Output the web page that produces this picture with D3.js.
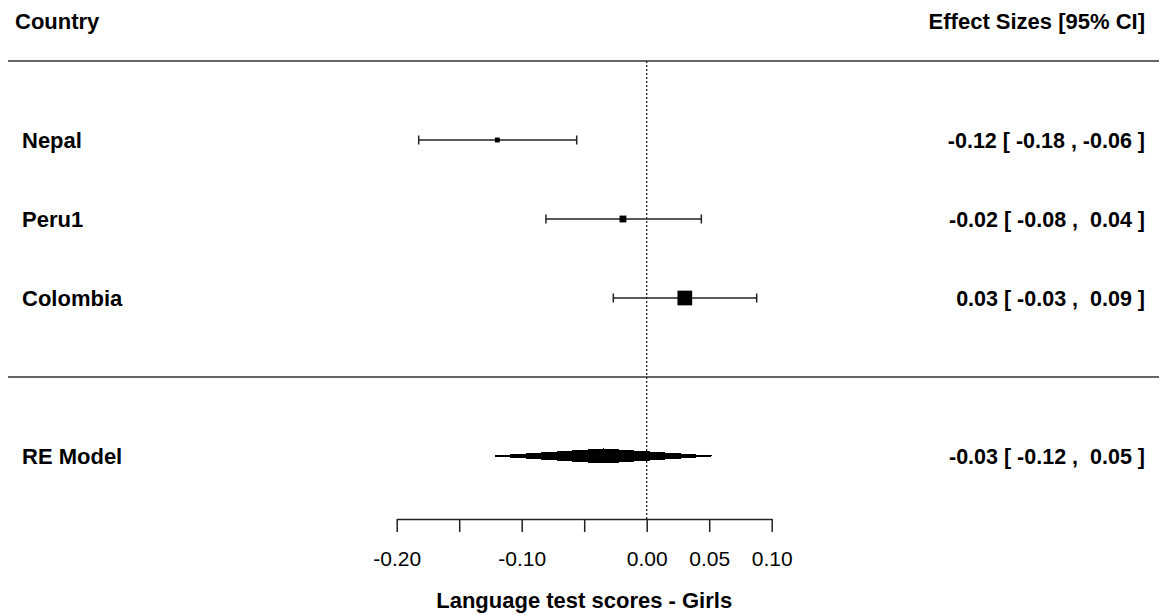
<!DOCTYPE html>
<html>
<head>
<meta charset="utf-8">
<script src="https://cdn.jsdelivr.net/npm/d3@7"></script>
<style>
  html, body { margin: 0; padding: 0; background: #fff; }
  svg { display: block; font-family: "Liberation Sans", Arial, sans-serif; }
  text { white-space: pre; }
</style>
</head>
<body>
<svg id="chart" width="1163" height="615"></svg>
<script>
// ---- data ----
const countries = ["Nepal", "Peru1", "Colombia"];
const estimates = [-0.1195, -0.0190, 0.0305];
const ciLower   = [-0.1824, -0.0806, -0.0267];
const ciUpper   = [-0.0560, 0.0437, 0.0880];
const weights   = [8.4, 16.4, 75.3];          // relative study weights (%)
const rows      = [3, 2, 1];

const modelLabel = "RE Model";
const modelEst   = -0.0347;
const modelLower = -0.1214;
const modelUpper = 0.0520;
const modelRow   = -1;

const tickValues = [-0.20, -0.15, -0.10, -0.05, 0.00, 0.05, 0.10];
const tickLabels = ["-0.20", "", "-0.10", "", "0.00", "0.05", "0.10"];

const headerLeft  = "Country";
const headerRight = "Effect Sizes [95% CI]";
const xTitle      = "Language test scores - Girls";

// ---- layout ----
const svg = d3.select("#chart");
const x = d3.scaleLinear().domain([-0.20, 0.10]).range([396.7, 771.7]);
const y = d3.scaleLinear().domain([0, 4]).range([377, 61]);
const sq = d3.scaleSqrt().domain([0, 75.3]).range([0, 14.7]);

const FS = 22;      // label text
const FSN = 21.5;   // numeric annotations
const FST = 21;     // tick labels
const lineCol = "#222";

// horizontal separators
[4, 0].forEach(r => {
  svg.append("line")
    .attr("x1", 8).attr("x2", 1159)
    .attr("y1", y(r)).attr("y2", y(r))
    .attr("stroke", "#333").attr("stroke-width", 1.5);
});

// reference line at 0
svg.append("line")
  .attr("x1", x(0)).attr("x2", x(0))
  .attr("y1", y(4)).attr("y2", 519)
  .attr("stroke", "#111").attr("stroke-width", 1.2)
  .attr("stroke-dasharray", "2,2");

// headers
svg.append("text").attr("x", 15).attr("y", y(4.5)).attr("dy", "0.35em")
  .attr("font-size", FS).attr("font-weight", "bold").text(headerLeft);
svg.append("text").attr("x", 1145).attr("y", y(4.5)).attr("dy", "0.35em")
  .attr("text-anchor", "end")
  .attr("font-size", FS).attr("font-weight", "bold").text(headerRight);

function fmt(v) {
  const s = Math.abs(v).toFixed(2);
  return (v < 0 ? "-" : " ") + s;
}

// studies
countries.forEach((c, i) => {
  const yy = y(rows[i]);
  const g = svg.append("g");
  g.append("line").attr("x1", x(ciLower[i])).attr("x2", x(ciUpper[i]))
    .attr("y1", yy).attr("y2", yy).attr("stroke", lineCol).attr("stroke-width", 1.5);
  [ciLower[i], ciUpper[i]].forEach(v => {
    g.append("line").attr("x1", x(v)).attr("x2", x(v))
      .attr("y1", yy - 4.5).attr("y2", yy + 4.5)
      .attr("stroke", lineCol).attr("stroke-width", 1.5);
  });
  const s = sq(weights[i]);
  g.append("rect").attr("x", x(estimates[i]) - s / 2).attr("y", yy - s / 2)
    .attr("width", s).attr("height", s).attr("fill", "#000");
  svg.append("text").attr("x", 22).attr("y", yy).attr("dy", "0.35em")
    .attr("font-size", FS).attr("font-weight", "bold").text(c);
  svg.append("text").attr("x", 1145).attr("y", yy).attr("dy", "0.35em")
    .attr("text-anchor", "end").attr("font-size", FSN).attr("font-weight", "bold")
    .text(`${fmt(estimates[i]).trim()} [ ${fmt(ciLower[i])} , ${fmt(ciUpper[i])} ]`);
});

// summary diamond
const ym = y(modelRow);
svg.append("polygon")
  .attr("points", [
    [x(modelLower), ym], [x(modelEst), ym - 7],
    [x(modelUpper), ym], [x(modelEst), ym + 7]
  ].map(p => p.join(",")).join(" "))
  .attr("fill", "#000").attr("stroke", "#000").attr("stroke-width", 1)
  .attr("shape-rendering", "crispEdges");
svg.append("text").attr("x", 22).attr("y", ym).attr("dy", "0.35em")
  .attr("font-size", FS).attr("font-weight", "bold").text(modelLabel);
svg.append("text").attr("x", 1145).attr("y", ym).attr("dy", "0.35em")
  .attr("text-anchor", "end").attr("font-size", FSN).attr("font-weight", "bold")
  .text(`${fmt(modelEst).trim()} [ ${fmt(modelLower)} , ${fmt(modelUpper)} ]`);

// x axis
const axis = d3.axisBottom(x).tickValues(tickValues)
  .tickFormat((d, i) => tickLabels[i]).tickSize(13).tickSizeOuter(0).tickPadding(19);
const ga = svg.append("g").attr("transform", "translate(0,519)").call(axis);
ga.select(".domain").attr("stroke", lineCol).attr("stroke-width", 1.5);
ga.selectAll(".tick line").attr("stroke", lineCol).attr("stroke-width", 1.5);
ga.selectAll(".tick text").attr("font-size", FST).attr("fill", "#000")
  .attr("font-family", "Liberation Sans, Arial, sans-serif");

svg.append("text").attr("x", x(-0.05)).attr("y", 600).attr("dy", "0.35em")
  .attr("text-anchor", "middle").attr("font-size", FS).attr("font-weight", "bold")
  .text(xTitle);
</script>
</body>
</html>
